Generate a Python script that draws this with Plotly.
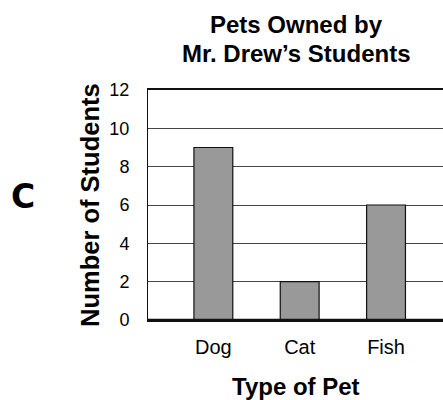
import plotly.graph_objects as go

pets = ["Dog", "Cat", "Fish"]
students = [9, 2, 6]
y_ticks = [0, 2, 4, 6, 8, 10, 12]

W, H = 443, 400
L, R, T, B = 148, 0, 90, 80

fig = go.Figure()
fig.add_trace(go.Bar(
    x=list(range(len(pets))), y=students, width=0.45,
    marker=dict(color="#999999", line=dict(color="#111111", width=1.2)),
))

font = "Liberation Sans, Arial, Helvetica, sans-serif"
fig.update_layout(
    width=W, height=H, margin=dict(l=L, r=R, t=T, b=B),
    plot_bgcolor="white", paper_bgcolor="white", showlegend=False,
    font=dict(family=font, size=18, color="black"),
    xaxis=dict(range=[-0.757, 2.66], tickvals=list(range(len(pets))), ticktext=pets,
               showgrid=False, zeroline=False, showline=True, linecolor="#111111",
               linewidth=1.5, mirror=True, ticks="", ticklabelstandoff=8,
               tickfont=dict(size=20, family=font)),
    yaxis=dict(range=[0, 12], tickvals=y_ticks, showgrid=True, gridcolor="#444444",
               gridwidth=1, zeroline=False, showline=True, linecolor="#111111",
               linewidth=1, ticks="", ticklabelstandoff=14,
               tickfont=dict(size=18, family=font)),
)
fig.add_shape(type="line", xref="paper", yref="paper", x0=0, x1=1, y0=0, y1=0,
              line=dict(color="#111111", width=2.5))

def px_to_paper(px, py):
    return ((px - L) / (W - L - R), (H - B - py) / (H - T - B))

annos = [
    ("<b>Pets Owned by</b>", 296, 24, 0, 24),
    ("<b>Mr. Drew’s Students</b>", 296, 53, 0, 24),
    ("<b>Type of Pet</b>", 296, 386, 0, 24),
    ("<b>Number of Students</b>", 90, 205, -90, 25.5),
]
for text, px, py, ang, sz in annos:
    xp, yp = px_to_paper(px, py)
    fig.add_annotation(text=text, x=xp, y=yp, xref="paper", yref="paper",
                       showarrow=False, font=dict(family=font, size=sz, color="black"),
                       textangle=ang, xanchor="center", yanchor="middle")
xp, yp = px_to_paper(23, 196)
fig.add_annotation(text="<b>C</b>", x=xp, y=yp, xref="paper", yref="paper",
                   showarrow=False, xanchor="center", yanchor="middle",
                   font=dict(family="DejaVu Sans, Verdana, sans-serif", size=33, color="black"))

fig.write_html("out.html", config={"displayModeBar": False},
               post_script="document.body.style.margin='0';document.body.style.overflow='hidden';")
